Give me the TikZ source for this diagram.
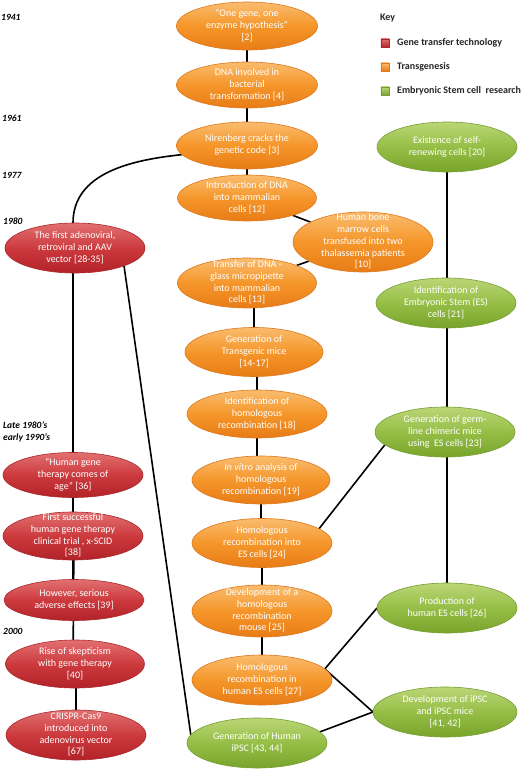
\documentclass[tikz,border=0pt]{standalone}
\usepackage{fontspec}
\setmainfont{Carlito}
\usetikzlibrary{shapes.geometric}
\pgfdeclarelayer{bg}
\pgfsetlayers{bg,main}
\definecolor{orgT}{RGB}{250,188,110}
\definecolor{orgM}{RGB}{245,150,42}
\definecolor{orgB}{RGB}{232,124,22}
\definecolor{orgE}{RGB}{222,120,30}
\definecolor{redT}{RGB}{226,112,112}
\definecolor{redM}{RGB}{204,58,62}
\definecolor{redB}{RGB}{178,34,40}
\definecolor{redE}{RGB}{170,40,45}
\definecolor{grnT}{RGB}{186,214,118}
\definecolor{grnM}{RGB}{150,190,70}
\definecolor{grnB}{RGB}{120,164,44}
\definecolor{grnE}{RGB}{118,158,50}
\definecolor{keytxt}{RGB}{38,38,38}
\newcommand\ntx[1]{\raisebox{-2.5pt}[0pt][0pt]{\makebox[0pt]{\begin{tabular}{@{}c@{}}#1\end{tabular}}}}
\tikzset{
  ev/.style={ellipse, inner sep=0pt, outer sep=0pt, minimum width=140pt, minimum height=48pt,
    text=white, font=\fontsize{10}{11.7}\selectfont, draw, line width=0.6pt},
  tg/.style={ev, draw=orgE, top color=orgT, bottom color=orgB, middle color=orgM},
  gt/.style={ev, draw=redE, top color=redT, bottom color=redB, middle color=redM},
  es/.style={ev, draw=grnE, top color=grnT, bottom color=grnB, middle color=grnM},
  link/.style={line width=1.6pt, black},
  yr/.style={inner sep=0pt, anchor=west, font=\fontsize{9.5}{11.5}\selectfont\bfseries\itshape, text=black},
  keyt/.style={inner sep=0pt, anchor=west, font=\fontsize{10}{12}\selectfont\bfseries, text=keytxt},
  keysq/.style={rectangle, inner sep=0pt, minimum size=8.5pt, line width=0.4pt}
}
\begin{document}
\begin{tikzpicture}[x=1pt, y=-1pt]
\useasboundingbox (0,0) rectangle (520,770);
\begin{pgfonlayer}{bg}
\fill[white] (0,0) rectangle (520,770);
\end{pgfonlayer}

% year labels
\node[yr] (y1941) at (1,17) {1941};
\node[yr] (y1961) at (2,118) {1961};
\node[yr] (y1977) at (2,175) {1977};
\node[yr] (y1980) at (3,221) {1980};
\node[yr, align=left] (y1990) at (3,432) {Late 1980’s\\early 1990’s};
\node[yr] (y2000) at (3,631) {2000};

% key
\node[keyt] (key) at (380,18) {Key};
\node[keysq, draw=redE, top color=redT, bottom color=redB] (k1) at (385,43) {};
\node[keyt] (k1t) at (397,43) {Gene transfer technology};
\node[keysq, draw=orgE, top color=orgT, bottom color=orgB] (k2) at (385,67) {};
\node[keyt] (k2t) at (397,67) {Transgenesis};
\node[keysq, draw=grnE, top color=grnT, bottom color=grnB] (k3) at (385,91) {};
\node[keyt] (k3t) at (397,91) {Embryonic Stem cell\ \ research};

% transgenesis column
\node[tg, minimum width=141pt] (O1) at (247,26) {\ntx{“One gene, one\\enzyme hypothesis”\\{[2]}}};
\node[tg, minimum width=141pt, minimum height=46pt] (O2) at (247,85) {\ntx{DNA involved in\\bacterial\\transformation [4]}};
\node[tg, minimum width=141pt, minimum height=47pt] (O3) at (247,145.5) {\ntx{Nirenberg cracks the\\genetic code [3]}};
\node[tg, minimum width=139pt, minimum height=46pt] (O4) at (247,198) {\ntx{Introduction of DNA\\into mammalian\\cells [12]}};
\node[tg, minimum height=60pt] (O5) at (363,242) {\ntx{Human bone\\marrow cells\\transfused into two\\thalassemia patients\\{[10]}}};
\node[tg, minimum width=139pt, minimum height=50pt] (O6) at (247,283) {\ntx{Transfer of DNA -\\glass micropipette\\into mammalian\\cells [13]}};
\node[tg, minimum width=138pt, minimum height=49pt] (O7) at (254,352) {\ntx{Generation of\\Transgenic mice\\{[14-17]}}};
\node[tg] (O8) at (257,414) {\ntx{Identification of\\homologous\\recombination [18]}};
\node[tg, minimum width=138pt] (O9) at (261,480) {\ntx{\textit{In vitro} analysis of\\homologous\\recombination [19]}};
\node[tg, minimum height=49pt] (O10) at (262,543) {\ntx{Homologous\\recombination into\\ES cells [24]}};
\node[tg, minimum height=52pt] (O11) at (262,611) {\ntx{Development of a\\homologous\\recombination\\mouse [25]}};
\node[tg, minimum height=50pt] (O12) at (262,680) {\ntx{Homologous\\recombination in\\human ES cells [27]}};
\node[es, minimum height=50pt] (iPSC) at (257,743) {\ntx{Generation of Human\\iPSC [43, 44]}};

% gene transfer column
\node[gt, minimum height=50pt] (R1) at (75,248) {\ntx{The first adenoviral,\\retroviral and AAV\\vector [28-35]}};
\node[gt, minimum height=45pt] (R2) at (73,475) {\ntx{“Human gene\\therapy comes of\\age” [36]}};
\node[gt] (R3) at (73,536) {\ntx{First successful\\human gene therapy\\clinical trial , x-SCID\\{[38]}}};
\node[gt, minimum height=41pt] (R4) at (74,600) {\ntx{However, serious\\adverse effects [39]}};
\node[gt, minimum width=139pt] (R5) at (75,664) {\ntx{Rise of skepticism\\with gene therapy\\{[40]}}};
\node[gt, minimum height=50pt] (R6) at (76,735) {\ntx{CRISPR-Cas9\\introduced into\\adenovirus vector\\{[67]}}};

% ES cell column
\node[es, minimum height=50pt] (G1) at (447,147) {\ntx{Existence of self-\\renewing cells [20]}};
\node[es, minimum height=50pt] (G2) at (446,303) {\ntx{Identification of\\Embryonic Stem (ES)\\cells [21]}};
\node[es, minimum height=50pt] (G3) at (445,432) {\ntx{Generation of germ-\\line chimeric mice\\using\ \ ES cells [23]}};
\node[es, minimum height=50pt] (G4) at (447,608) {\ntx{Production of\\human ES cells [26]}};
\node[es, minimum width=144pt, minimum height=50pt] (G5) at (445,712) {\ntx{Development of iPSC\\and iPSC mice\\{[41, 42]}}};

\begin{pgfonlayer}{bg}
\draw[link] (O2) -- (O2 |- O1);
\draw[link] (O3) -- (O3 |- O2);
\draw[link] (O4) -- (O4 |- O3);
\draw[link] (O4) -- (O5);
\draw[link] (O5) -- (O6);
\draw[link] (O7) -- (O7 |- O6);
\draw[link] (O8) -- (O8 |- O7);
\draw[link] (O8) -- (O8 |- O9);
\draw[link] (O9) -- (O9 |- O10);
\draw[link] (O11) -- (O11 |- O10);
\draw[link] (O11) -- (O11 |- O12);
\draw[link] (O3.188) to[out=186, in=90] (R1.north -| R2);
\draw[link] (R2) -- (R2 |- R1);
\draw[link] (R2) -- (R2 |- R3);
\draw[link] (R3) -- (R3 |- R4);
\draw[link] (R3 -| R4) -- (R3 |- R5);
\draw[link] (R6) -- (R6 |- R5);
\draw[link] (R1.-20) -- (iPSC.173);
\draw[link] (G1) -- (G1 |- G2);
\draw[link] (G1 |- G2) -- (G1 |- G3);
\draw[link] (G1 |- G3) -- (G1 |- G4);
\draw[link] (O10.14) -- (G3.192);
\draw[link] (O12.10) -- (G4.180);
\draw[link] (O12.10) -- (G5.180);
\draw[link] (iPSC.10) -- (G5.180);
\end{pgfonlayer}
\end{tikzpicture}
\end{document}
